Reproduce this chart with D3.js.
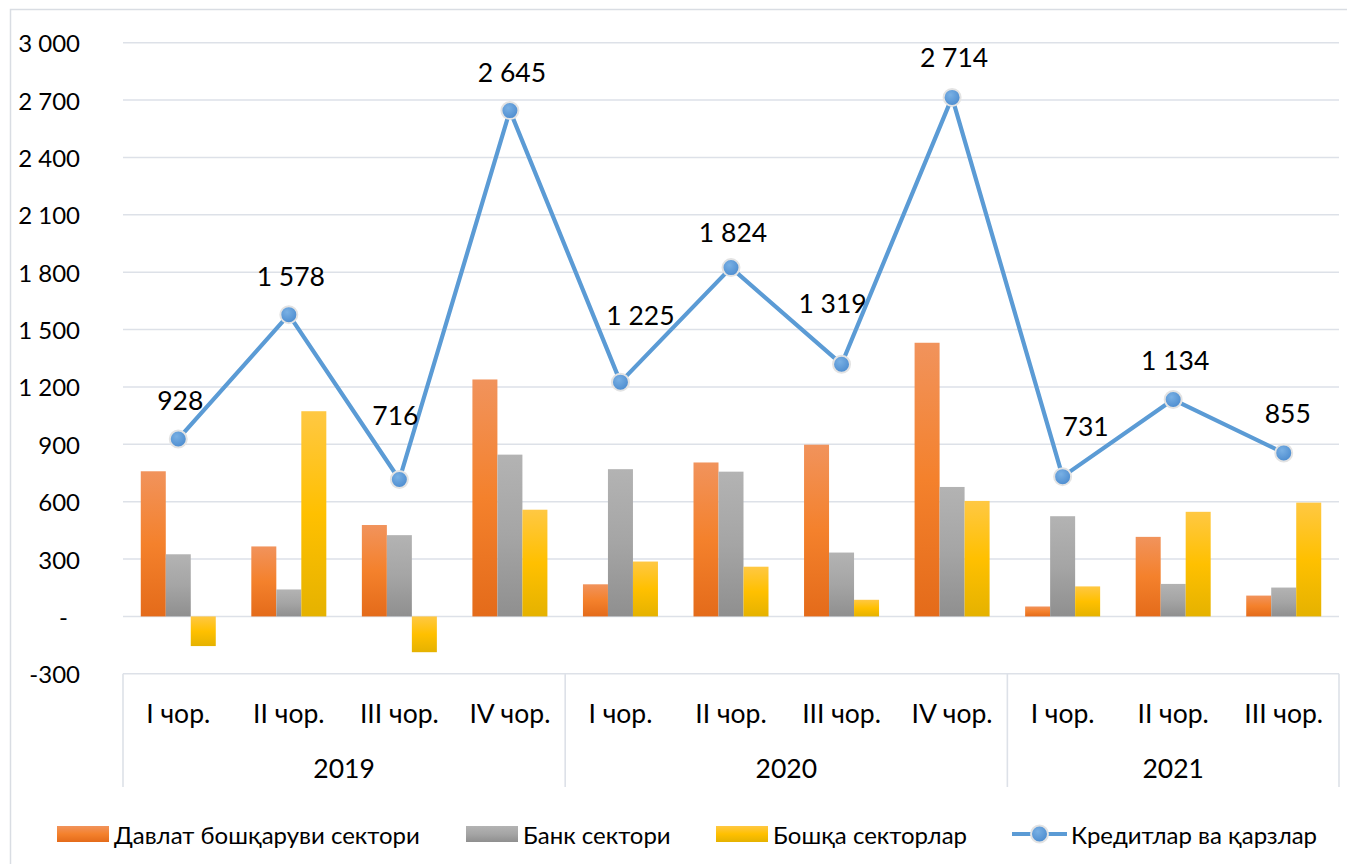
<!DOCTYPE html>
<html>
<head>
<meta charset="utf-8">
<script src="https://cdn.jsdelivr.net/npm/d3@7"></script>
<style>
  html, body { margin: 0; padding: 0; background: #ffffff; }
  svg text { font-family: "Lato", "Liberation Sans", sans-serif; fill: #000; }
</style>
</head>
<body>
<svg id="chart" width="1347" height="864"></svg>
<script>
// ---- data ----
const quarters = ["I чор.", "II чор.", "III чор.", "IV чор.", "I чор.", "II чор.", "III чор.", "IV чор.", "I чор.", "II чор.", "III чор."];
const years = ["2019", "2020", "2021"];
const yearSpans = [4, 4, 3];
const govSector = [759, 366, 478, 1239, 168, 805, 898, 1431, 52, 416, 109];
const bankSector = [325, 141, 425, 846, 770, 757, 334, 677, 524, 170, 151];
const otherSectors = [-155, 1073, -187, 558, 287, 260, 87, 604, 157, 547, 595];
const loans = [928, 1578, 716, 2645, 1225, 1824, 1319, 2714, 731, 1134, 855];
const yTicks = [-300, 0, 300, 600, 900, 1200, 1500, 1800, 2100, 2400, 2700, 3000];
const seriesNames = ["Давлат бошқаруви сектори", "Банк сектори", "Бошқа секторлар", "Кредитлар ва қарзлар"];

(function () {
// ---- setup ----
const svg = d3.select("#chart");
const FS = 24, FS_CAT = 26.5, FS_LBL = 26.5;
const pLeft = 123, pRight = 1339, pTop = 42.7, pBottom = 673.8;
const idx = d3.range(quarters.length);
// manual data-label nudges (label placement in the original chart)
const lblDx = [2, 2, -4, 2, 20, 2, -9, 2, 23, 2, 4];
const lblDy = [-29, -29, -54, -29, -57, -26, -51, -30, -41, -30, -30];

const x = d3.scaleBand().domain(idx).range([pLeft, pRight]).paddingInner(0).paddingOuter(0);
const y = d3.scaleLinear().domain([-300, 3000]).range([pBottom, pTop]);
const inner = d3.scaleBand().domain([0, 1, 2]).range([0, 75]).padding(0);
const groupOffset = (x.bandwidth() - 75) / 2;

const fmt = d3.formatLocale({ decimal: ",", thousands: " ", grouping: [3], currency: ["", ""], minus: "-" }).format(",d");
const tickFmt = v => v === 0 ? "-" : fmt(v);

// gradients
const defs = svg.append("defs");
function grad(id, stops) {
  const g = defs.append("linearGradient").attr("id", id).attr("x1", 0).attr("y1", 0).attr("x2", 0).attr("y2", 1);
  stops.forEach(s => g.append("stop").attr("offset", s[0]).attr("stop-color", s[1]));
}
grad("gOrange", [[0, "#f1935c"], [0.5, "#f4812c"], [1, "#e46b1a"]]);
grad("gGray", [[0, "#b3b3b3"], [0.5, "#a5a5a5"], [1, "#8f8f8f"]]);
grad("gYellow", [[0, "#ffc843"], [0.5, "#ffc000"], [1, "#e5b200"]]);
const mk = defs.append("radialGradient").attr("id", "gMarker").attr("cx", "40%").attr("cy", "35%").attr("r", "70%");
mk.append("stop").attr("offset", 0).attr("stop-color", "#79b0e4");
mk.append("stop").attr("offset", 1).attr("stop-color", "#4a8ace");

// outer border
svg.append("rect").attr("x", 10.5).attr("y", 9.5).attr("width", 1345).attr("height", 870)
  .attr("fill", "none").attr("stroke", "#d9dde3").attr("stroke-width", 1.5);

// gridlines
const gridColor = "#dde1e8";
svg.append("g").selectAll("line").data(yTicks).join("line")
  .attr("x1", pLeft).attr("x2", pRight)
  .attr("y1", d => y(d)).attr("y2", d => y(d))
  .attr("stroke", gridColor).attr("stroke-width", 1.6);

// y labels
svg.append("g").selectAll("text").data(yTicks).join("text")
  .attr("x", d => d === 0 ? 68 : 80).attr("y", d => y(d))
  .attr("text-anchor", "end").attr("dominant-baseline", "central")
  .attr("font-size", FS).text(tickFmt);

// category axis box
const axBottom = 787;
let cum = 0;
const sepX = [pLeft];
yearSpans.forEach(s => { cum += s; sepX.push(x(cum - 1) + x.bandwidth()); });
svg.append("g").selectAll("line").data(sepX).join("line")
  .attr("x1", d => d).attr("x2", d => d).attr("y1", pBottom).attr("y2", axBottom)
  .attr("stroke", gridColor).attr("stroke-width", 1.6);

svg.append("g").selectAll("text").data(idx).join("text")
  .attr("x", i => x(i) + x.bandwidth() / 2).attr("y", 713)
  .attr("text-anchor", "middle").attr("dominant-baseline", "central")
  .attr("font-size", FS_CAT).text(i => quarters[i]);

svg.append("g").selectAll("text").data(years).join("text")
  .attr("x", (d, i) => (sepX[i] + sepX[i + 1]) / 2).attr("y", 768)
  .attr("text-anchor", "middle").attr("dominant-baseline", "central")
  .attr("font-size", FS_CAT).text(d => d);

// bars
const series = [govSector, bankSector, otherSectors];
const fills = ["url(#gOrange)", "url(#gGray)", "url(#gYellow)"];
series.forEach((vals, s) => {
  svg.append("g").selectAll("rect").data(idx).join("rect")
    .attr("x", i => x(i) + groupOffset + inner(s))
    .attr("width", inner.bandwidth())
    .attr("y", i => y(Math.max(0, vals[i])))
    .attr("height", i => Math.abs(y(vals[i]) - y(0)))
    .attr("fill", fills[s]);
});

// line
const lineGen = d3.line().x(i => x(i) + x.bandwidth() / 2).y(i => y(loans[i]));
svg.append("path").datum(idx).attr("d", lineGen)
  .attr("fill", "none").attr("stroke", "#5b9bd5").attr("stroke-width", 4.2).attr("stroke-linejoin", "round");
svg.append("g").selectAll("circle").data(idx).join("circle")
  .attr("cx", i => x(i) + x.bandwidth() / 2).attr("cy", i => y(loans[i])).attr("r", 8.5)
  .attr("fill", "url(#gMarker)").attr("stroke", "#e3e3e3").attr("stroke-width", 2);
svg.append("g").selectAll("text").data(idx).join("text")
  .attr("x", i => x(i) + x.bandwidth() / 2 + lblDx[i]).attr("y", i => y(loans[i]) + lblDy[i])
  .attr("text-anchor", "middle")
  .attr("font-size", FS_LBL).text(i => fmt(loans[i]));

// legend
const legY = 834;
const legItems = [
  { type: "rect", fill: fills[0], x: 57 },
  { type: "rect", fill: fills[1], x: 466 },
  { type: "rect", fill: fills[2], x: 716 },
  { type: "line", x: 1012 }
];
const lg = svg.append("g");
legItems.forEach((it, k) => {
  if (it.type === "rect") {
    lg.append("rect").attr("x", it.x).attr("y", legY - 8).attr("width", 52).attr("height", 16).attr("fill", it.fill);
    lg.append("text").attr("x", it.x + 57).attr("y", legY).attr("dominant-baseline", "central")
      .attr("font-size", FS).text(seriesNames[k]);
  } else {
    lg.append("line").attr("x1", it.x).attr("x2", it.x + 55).attr("y1", legY).attr("y2", legY)
      .attr("stroke", "#5b9bd5").attr("stroke-width", 4.2);
    lg.append("circle").attr("cx", it.x + 27.5).attr("cy", legY).attr("r", 8.5)
      .attr("fill", "url(#gMarker)").attr("stroke", "#e3e3e3").attr("stroke-width", 2);
    lg.append("text").attr("x", it.x + 59).attr("y", legY).attr("dominant-baseline", "central")
      .attr("font-size", FS).text(seriesNames[k]);
  }
});
})();
</script>
</body>
</html>
